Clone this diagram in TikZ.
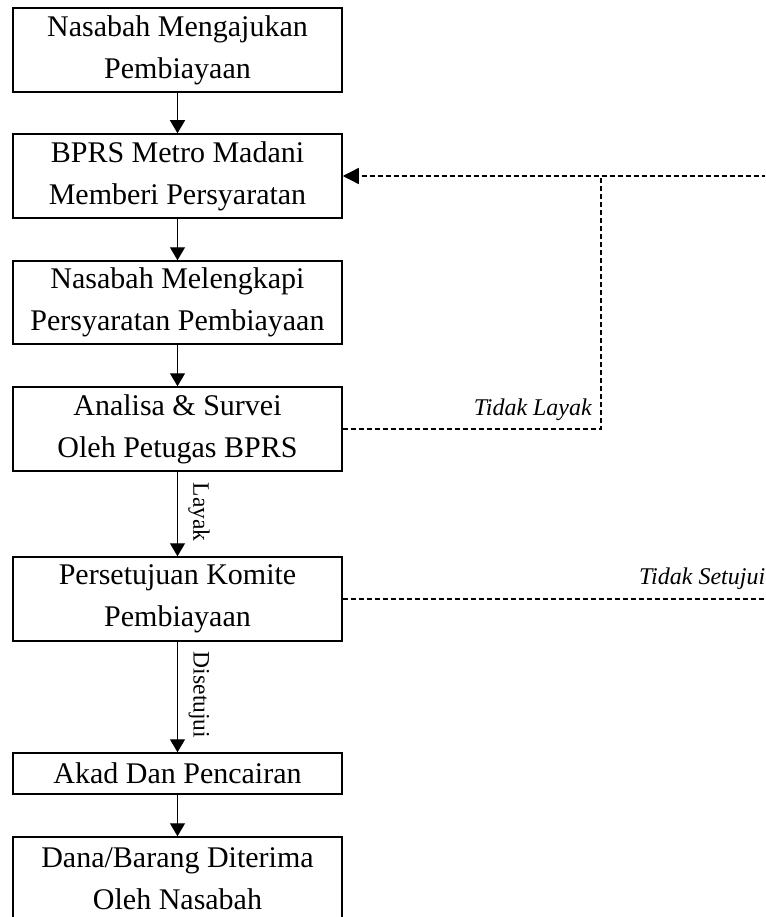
\documentclass[tikz,border=0pt]{standalone}
\usepackage{fontspec}
\setmainfont{Liberation Serif}
\usetikzlibrary{arrows.meta}
\begin{document}
\begin{tikzpicture}[x=1pt,y=1pt,
  boxnode/.style={draw, line width=1.5pt, minimum width=329pt, minimum height=84pt, inner sep=0pt, align=center, font=\fontsize{30}{42}\selectfont},
  arr/.style={line width=1.3pt, -{Triangle[width=15pt,length=13pt]}},
  dsh/.style={line width=1.3pt, dash pattern=on 5pt off 3pt},
  lbl/.style={inner sep=0pt, font=\fontsize{24}{28}\selectfont\itshape},
  vlbl/.style={inner sep=0pt, font=\fontsize{23.5}{28}\selectfont, rotate=-90}]
\useasboundingbox (0,0) rectangle (765,-917);
\clip (0,0) rectangle (765,-917);
\node[boxnode] (b1) at (177.5,-50) {Nasabah Mengajukan\\Pembiayaan};
\node[boxnode] (b2) at (177.5,-176) {BPRS Metro Madani\\Memberi Persyaratan};
\node[boxnode, minimum height=83pt] (b3) at (177.5,-302.5) {Nasabah Melengkapi\\Persyaratan Pembiayaan};
\node[boxnode] (b4) at (177.5,-429) {Analisa \& Survei\\Oleh Petugas BPRS};
\node[boxnode] (b5) at (177.5,-599) {Persetujuan Komite\\Pembiayaan};
\node[boxnode, minimum height=41pt] (b6) at (177.5,-773.5) {Akad Dan Pencairan};
\node[boxnode] (b7) at (177.5,-879) {Dana/Barang Diterima\\Oleh Nasabah};
\draw[arr] (b1) -- (b2);
\draw[arr] (b2) -- (b3);
\draw[arr] (b3) -- (b4);
\draw[arr] (b4) -- (b5);
\draw[arr] (b5) -- (b6);
\draw[arr] (b6) -- (b7);
\node[vlbl] (llay) at (199,-512) {Layak};
\node[vlbl] (lset) at (199,-695) {Disetujui};
\coordinate (tl) at (601,-429);
\coordinate (tr) at (601,-176);
\coordinate (ed) at (775,-176);
\coordinate (ed2) at (775,-599);
\draw[dsh] (b4.east) -- (tl) -- (tr);
\draw[dsh, -{Triangle[width=16pt,length=16pt]}] (ed) -- (b2.east);
\draw[dsh] (b5.east) -- (ed2);
\node[lbl, anchor=base east] (tlay) at (592,-415) {Tidak Layak};
\node[lbl, anchor=base west] (tset) at (639,-584) {Tidak Setujui};
\end{tikzpicture}
\end{document}
